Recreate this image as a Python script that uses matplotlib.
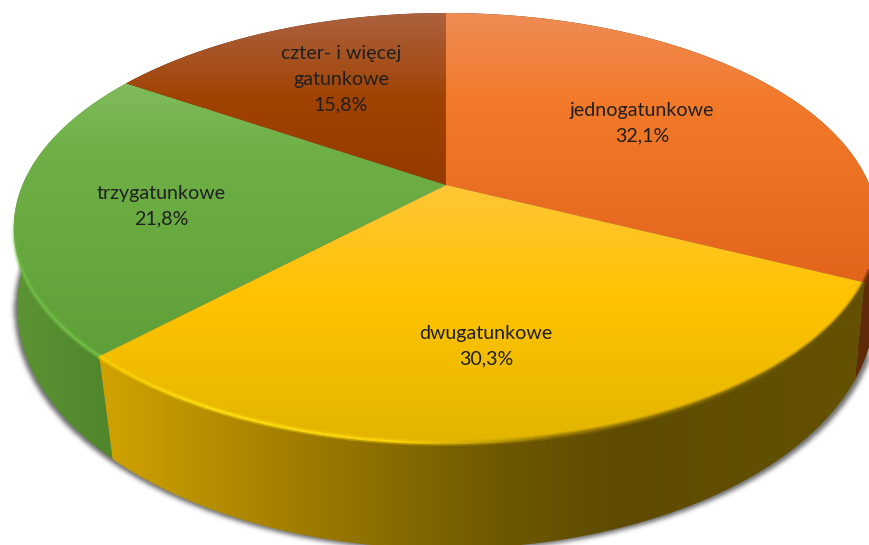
import numpy as np
import matplotlib.pyplot as plt
from matplotlib.patches import Polygon
from matplotlib.path import Path
from matplotlib.collections import LineCollection

# dane
categories = ['jednogatunkowe', 'dwugatunkowe', 'trzygatunkowe', 'czter- i więcej\ngatunkowe']
shares = [32.1, 30.3, 21.8, 15.8]

# gdzie stoja podpisy (srodek tekstu w pikselach)
label_pos = [(642, 123), (486, 346), (161, 206), (341, 79)]

# kolory: (y, kolor) gora plastra, (x, kolor) sciana boczna
top_stops = [
    [(13, (238, 140, 85)), (100, (243, 122, 42)), (285, (226, 100, 26))],
    [(185, (255, 198, 55)), (300, (255, 195, 0)), (445, (226, 181, 0))],
    [(85, (128, 187, 92)), (150, (111, 176, 70)), (355, (94, 160, 55))],
    [(13, (172, 98, 64)), (100, (160, 66, 2)), (185, (149, 58, 0))],
]
wall_stops = [
    [(800, (110, 50, 10)), (869, (95, 42, 8))],
    [(105, (208, 162, 0)), (300, (160, 125, 0)), (500, (110, 88, 0)), (620, (94, 75, 0)), (869, (100, 82, 0))],
    [(15, (92, 148, 52)), (110, (80, 134, 44))],
    [(0, (80, 40, 10)), (869, (80, 40, 10))],
]
rim_stops = [
    [(800, (120, 60, 15)), (869, (110, 50, 12))],
    [(105, (250, 205, 0)), (200, (255, 226, 20)), (400, (255, 215, 10)), (560, (150, 120, 0)), (869, (100, 82, 0))],
    [(15, (112, 190, 70)), (110, (115, 195, 70))],
    [(0, (150, 60, 0)), (869, (150, 60, 0))],
]

W, H = 869, 545


# rzut punktu na kole (kat od gory, zgodnie z zegarem) na piksele
def rzut(kat, cy, A, B, K):
    x = np.sin(kat)
    y = np.cos(kat)
    return np.column_stack((446 + A * x / (1 + K * y), cy - B * y / (1 + K * y)))


def gora(kat):
    return rzut(kat, 185, 423.5, 206.4, 0.2)


def dol(kat):
    return rzut(kat, 271, 424, 236, 0.15)


def kolory(stops, v):
    p = [s[0] for s in stops]
    return np.column_stack([np.interp(v, p, [s[1][i] for s in stops]) for i in range(3)]) / 255


def gradient(ax, pts, stops, pion):
    n = H if pion else W
    c = kolory(stops, np.arange(n) + 0.5)
    img = c[:, None, :] if pion else c[None, :, :]
    patch = Polygon(pts, closed=True, transform=ax.transData, fc='none', ec='none')
    ax.add_patch(patch)
    im = ax.imshow(img, extent=(0, W, H, 0), aspect='auto', interpolation='bilinear')
    im.set_clip_path(patch)


fig = plt.figure(figsize=(W / 100, H / 100), dpi=100)
ax = fig.add_axes([0, 0, 1, 1])
ax.set_xlim(0, W)
ax.set_ylim(H, 0)
ax.axis('off')

granice = 2 * np.pi * np.cumsum([0] + shares) / sum(shares)

# cien pod kolem
t = np.linspace(0, 2 * np.pi, 400)
obrys = dol(t)
obrys[:, 0] = 446 + (obrys[:, 0] - 446) * 1.008
obrys[:, 1] = obrys[:, 1] + 2
xx, yy = np.meshgrid(np.arange(W), np.arange(H + 20))
maska = Path(obrys).contains_points(np.column_stack((xx.ravel(), yy.ravel()))).reshape(xx.shape).astype(float)
jadro = np.exp(-0.5 * (np.arange(-8, 9) / 2.3) ** 2)
jadro = jadro / jadro.sum()
maska = np.apply_along_axis(lambda r: np.convolve(r, jadro, mode='same'), 0, maska)
maska = np.apply_along_axis(lambda r: np.convolve(r, jadro, mode='same'), 1, maska)
cien = np.zeros((H, W, 4))
cien[..., :3] = 0.25
cien[..., 3] = maska[:H] * 0.75
ax.imshow(cien, extent=(0, W, H, 0), aspect='auto', interpolation='bilinear')

# sciany boczne
for i in range(4):
    k = np.linspace(granice[i], granice[i + 1], 200)
    pts = np.vstack((gora(k), dol(k)[::-1]))
    gradient(ax, pts, wall_stops[i], False)

# gorna powierzchnia
for i in range(4):
    k = np.linspace(granice[i], granice[i + 1], 200)
    pts = np.vstack(([[446, 185]], gora(k)))
    gradient(ax, pts, top_stops[i], True)

# jasny rant, tylko z przodu kola
for i in range(3):
    k = np.linspace(granice[i], granice[i + 1], 300)
    k = k[(k > np.radians(88)) & (k < np.radians(272))]
    pts = gora(k)
    seg = np.stack((pts[:-1], pts[1:]), axis=1)
    c = kolory(rim_stops[i], pts[:-1, 0])
    a = np.clip((pts[:-1, 1] - 215) / 60, 0, 1)
    ax.add_collection(LineCollection(seg, colors=np.column_stack((c, a * 0.35)), linewidths=4.2))
    ax.add_collection(LineCollection(seg, colors=np.column_stack((c, a * 0.9)), linewidths=1.8))

# podpisy
for cat, val, (x, y) in zip(categories, shares, label_pos):
    txt = cat + '\n' + f'{val:.1f}'.replace('.', ',') + '%'
    ax.text(x, y, txt, ha='center', va='center', fontsize=14.1, family='Lato',
            color='#1f1f1f', linespacing=1.6)

ax.set_xlim(0, W)
ax.set_ylim(H, 0)
fig.savefig('out.png', dpi=100)
